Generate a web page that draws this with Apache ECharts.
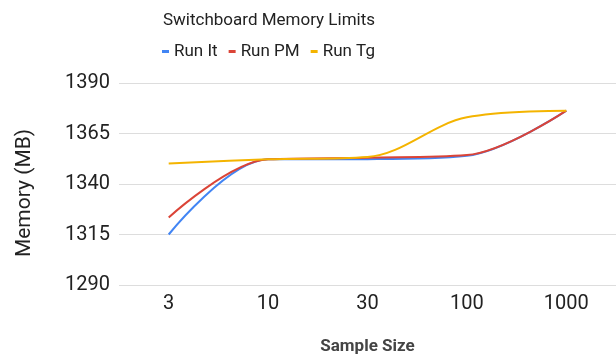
<!DOCTYPE html>
<html>
<head>
<meta charset="utf-8">
<script src="https://cdn.jsdelivr.net/npm/echarts@6/dist/echarts.min.js"></script>
<style>
  html, body { margin: 0; padding: 0; background: #fff; }
  #chart { width: 616px; height: 360px; }
</style>
</head>
<body>
<div id="chart"></div>
<script>
// Sample sizes on the x axis
const sampleSizes = ['3', '10', '30', '100', '1000'];

// Memory usage (MB) per run
const runIt = [1315, 1352.2, 1352.3, 1354, 1376.3];
const runPM = [1323.4, 1352.2, 1353, 1354.3, 1376.3];
const runTg = [1350.2, 1352.2, 1353.4, 1373, 1376.3];

// Y axis range and step
const yMin = 1290;
const yMax = 1390;
const yStep = 25;

const font = 'Roboto, "Noto Sans", sans-serif';

const chart = echarts.init(document.getElementById('chart'), null, { renderer: 'canvas' });

function lineSeries(name, data, color) {
  return {
    name: name,
    type: 'line',
    data: data,
    smooth: 0.35,
    showSymbol: false,
    symbol: 'none',
    lineStyle: { width: 2, color: color },
    itemStyle: { color: color },
    emphasis: { disabled: true }
  };
}

chart.setOption({
  animation: false,
  backgroundColor: '#ffffff',
  title: {
    text: 'Switchboard Memory Limits',
    left: 158,
    top: 7,
    textStyle: { fontFamily: font, fontSize: 17, fontWeight: 'normal', color: '#222222' }
  },
  legend: {
    top: 38,
    left: 157,
    icon: 'rect',
    itemWidth: 7,
    itemHeight: 3,
    itemGap: 11,
    textStyle: { fontFamily: font, fontSize: 17, color: '#222222' },
    data: ['Run It', 'Run PM', 'Run Tg']
  },
  grid: { left: 119, right: 0, top: 83, bottom: 71 },
  xAxis: {
    type: 'category',
    data: sampleSizes,
    boundaryGap: true,
    axisLine: { show: false },
    axisTick: { show: false },
    axisLabel: { fontFamily: font, fontSize: 20, color: '#222222', margin: 9 },
    name: 'Sample Size',
    nameLocation: 'middle',
    nameGap: 53,
    nameTextStyle: { fontFamily: font, fontSize: 17, fontWeight: 'bold', color: '#444444' }
  },
  yAxis: {
    type: 'value',
    min: yMin,
    max: yMax,
    interval: yStep,
    axisLine: { show: false },
    axisTick: { show: false },
    splitLine: { lineStyle: { color: '#dddddd', width: 1 } },
    axisLabel: {
      fontFamily: font, fontSize: 20, color: '#222222', margin: 9,
      formatter: function (v) { return String(v); }
    },
    name: 'Memory (MB)',
    nameLocation: 'middle',
    nameGap: 84,
    nameTextStyle: { fontFamily: font, fontSize: 21, color: '#222222', padding: [0, 18, 0, 0] }
  },
  series: [
    lineSeries('Run It', runIt, '#4285F4'),
    lineSeries('Run PM', runPM, '#DB4437'),
    lineSeries('Run Tg', runTg, '#F4B400')
  ]
});
</script>
</body>
</html>
